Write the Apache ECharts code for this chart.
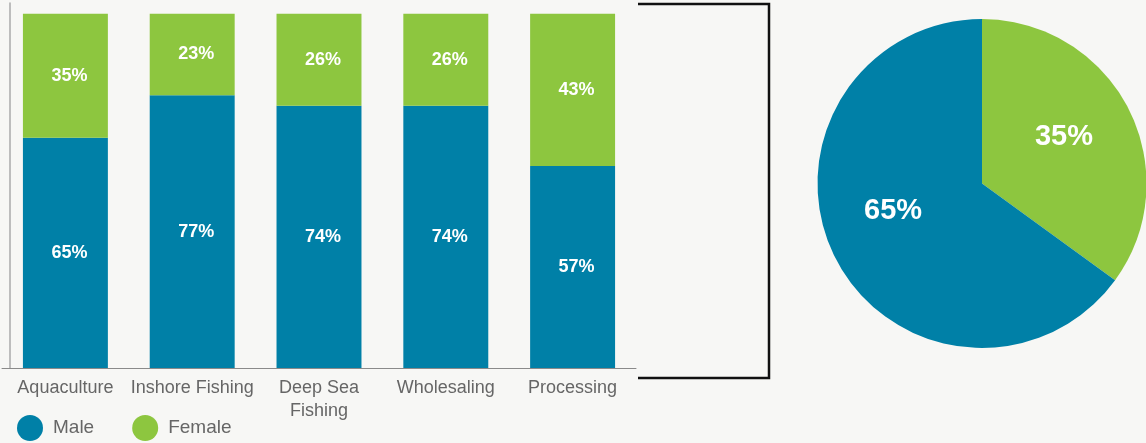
<!DOCTYPE html>
<html lang="en">
<head>
  <meta charset="UTF-8">
  <script src="https://cdn.jsdelivr.net/npm/echarts@6/dist/echarts.min.js"></script>
  <style>
    html, body { margin: 0; padding: 0; background: #f7f7f5; }
    #container { width: 1146px; height: 443px; }
  </style>
</head>
<body>
  <div id="container"></div>
  <script>
    var categories = ['Aquaculture', 'Inshore Fishing', 'Deep Sea\nFishing', 'Wholesaling', 'Processing'];
    var maleShare = [65, 77, 74, 74, 57];
    var femaleShare = [35, 23, 26, 26, 43];
    var totalNames = ['Female', 'Male'];
    var totalShare = [35, 65];

    var blue = '#0080a7';
    var green = '#8dc63f';

    var myChart = echarts.init(document.getElementById('container'));

    var barLabel = {
      show: true,
      position: 'inside',
      color: '#fff',
      fontFamily: 'Liberation Sans',
      fontWeight: 'bold',
      fontSize: 18,
      offset: [4, 0],
      formatter: '{c}%'
    };

    // nudge the pie labels outward a bit, like the original
    var pieOffsets = { Female: [6, -8], Male: [-13, -11] };
    var pieData = totalNames.map(function (n, i) {
      return { name: n, value: totalShare[i], label: { offset: pieOffsets[n] } };
    });

    var option = {
      backgroundColor: '#f7f7f5',
      animation: false,
      color: [blue, green],
      grid: { left: 2, right: 510, top: 3, bottom: 75 },
      legend: {
        left: 12,
        top: 410,
        icon: 'circle',
        itemWidth: 26,
        itemHeight: 26,
        itemGap: 38,
        data: ['Male', 'Female'],
        textStyle: {
          color: '#666',
          fontFamily: 'Liberation Sans',
          fontSize: 19,
          padding: [0, 0, 0, 5]
        }
      },
      xAxis: {
        type: 'category',
        data: categories,
        axisLine: { lineStyle: { color: '#8a8a8a', width: 1 } },
        axisTick: { show: false },
        axisLabel: {
          interval: 0,
          color: '#666',
          fontFamily: 'Liberation Sans',
          fontSize: 18,
          margin: 9,
          lineHeight: 23
        }
      },
      yAxis: {
        type: 'value',
        min: 0,
        max: 103,
        offset: -8,
        axisLine: { show: true, lineStyle: { color: '#aaa', width: 1.5 } },
        axisTick: { show: false },
        axisLabel: { show: false },
        splitLine: { show: false }
      },
      graphic: [
        {
          type: 'polyline',
          shape: { points: [[638, 4], [769, 4], [769, 378], [638, 378]] },
          style: { stroke: '#111', lineWidth: 2.5, fill: null }
        }
      ],
      series: [
        {
          name: 'Male',
          type: 'bar',
          stack: 'share',
          barCategoryGap: '33%',
          data: maleShare,
          itemStyle: { color: blue },
          label: barLabel
        },
        {
          name: 'Female',
          type: 'bar',
          stack: 'share',
          data: femaleShare,
          itemStyle: { color: green },
          label: barLabel
        },
        {
          name: 'Total',
          type: 'pie',
          center: [982, 183.5],
          radius: 164.5,
          startAngle: 90,
          clockwise: true,
          data: pieData,
          itemStyle: {
            color: function (p) { return p.name === 'Male' ? blue : green; }
          },
          label: {
            show: true,
            position: 'inside',
            color: '#fff',
            fontFamily: 'Liberation Sans',
            fontWeight: 'bold',
            fontSize: 29,
            formatter: '{c}%'
          },
          labelLine: { show: false },
          emphasis: { disabled: true }
        }
      ]
    };

    myChart.setOption(option);
  </script>
</body>
</html>
